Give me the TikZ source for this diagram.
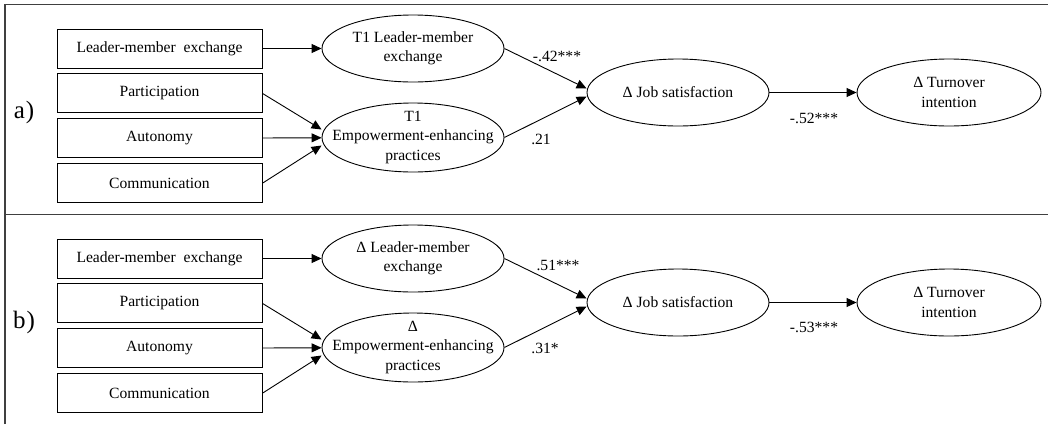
\documentclass[tikz,border=0pt]{standalone}
\usepackage{fontspec}
\setmainfont{Liberation Serif}
\usetikzlibrary{arrows.meta, positioning, shapes.geometric}
\tikzset{%
	obs/.style={draw, rectangle, minimum width=205pt, minimum height=39pt, inner sep=0pt, line width=0.9pt},
	lat/.style={draw, ellipse, minimum width=182pt, minimum height=67pt, inner sep=0pt, line width=0.9pt},
	reg/.style={-{Triangle[length=10pt, width=9pt]}, line width=0.9pt},
	coef/.style={inner sep=0pt},
	panel/.style={font=\fontsize{25}{30}\selectfont},
	frame/.style={line width=1.4pt, black!75}
}

\begin{document}
\begin{tikzpicture}[x=1pt, y=-1pt, every node/.style={font=\fontsize{15.6}{19.5}\selectfont}]
	\useasboundingbox (0,0) rectangle (1048,424);
	\draw[frame] (5,424) -- (5,4.5) -- (1048,4.5);
	\draw[frame] (5,214.5) -- (1048,214.5);

	% a) T1 model
	\node[panel] (panA) at (24,112) {a\kern1pt)};
	\node[obs] (lmxA) at (159.5,48.5) {Leader-member\ \ exchange};
	\node[obs, below=5pt of lmxA] (partA) {Participation};
	\node[obs, below=5pt of partA] (autA) {Autonomy};
	\node[obs, below=5pt of autA] (comA) {Communication};
	\node[lat, label={[align=center]center:T1 Leader-member\\exchange}] (lmxlatA) at (413,48.5) {};
	\node[lat, minimum height=69pt, label={[align=center]center:T1\\Empowerment-enhancing\\practices}] (empA) at (413,137.5) {};
	\node[lat, label=center:Δ Job satisfaction] (jobA) at (678,92.5) {};
	\node[lat, minimum width=184pt, label={[align=center]center:Δ Turnover\\intention}] (turnA) at (949,92.5) {};

	\draw[reg] (lmxA) -- (lmxlatA);
	\draw[reg] (partA.east) -- ([yshift=8pt]empA.west);
	\draw[reg] (autA) -- (empA);
	\draw[reg] (comA.east) -- ([yshift=-8pt]empA.west);
	\draw[reg] (lmxlatA.east) -- ([yshift=4pt]jobA.west);
	\draw[reg] (empA.east) -- ([yshift=-4pt]jobA.west);
	\draw[reg] (jobA) -- (turnA);
	\node[coef] (bA1) at (557,56) {-.42***};
	\node[coef] (bA2) at (541,139) {.21};
	\node[coef] (bA3) at (814,118) {-.52***};

	% b) change model
	\node[panel] (panB) at (24,322) {b\kern1pt)};
	\node[obs] (lmxB) at (159.5,258.5) {Leader-member\ \ exchange};
	\node[obs, below=5pt of lmxB] (partB) {Participation};
	\node[obs, below=5pt of partB] (autB) {Autonomy};
	\node[obs, below=5pt of autB] (comB) {Communication};
	\node[lat, label={[align=center]center:Δ Leader-member\\exchange}] (lmxlatB) at (413,258.5) {};
	\node[lat, minimum height=69pt, label={[align=center]center:Δ\\Empowerment-enhancing\\practices}] (empB) at (413,347.5) {};
	\node[lat, label=center:Δ Job satisfaction] (jobB) at (678,302.5) {};
	\node[lat, minimum width=184pt, label={[align=center]center:Δ Turnover\\intention}] (turnB) at (949,302.5) {};

	\draw[reg] (lmxB) -- (lmxlatB);
	\draw[reg] (partB.east) -- ([yshift=8pt]empB.west);
	\draw[reg] (autB) -- (empB);
	\draw[reg] (comB.east) -- ([yshift=-8pt]empB.west);
	\draw[reg] (lmxlatB.east) -- ([yshift=4pt]jobB.west);
	\draw[reg] (empB.east) -- ([yshift=-4pt]jobB.west);
	\draw[reg] (jobB) -- (turnB);
	\node[coef] (bB1) at (558,265) {.51***};
	\node[coef] (bB2) at (545,348) {.31*};
	\node[coef] (bB3) at (814,327) {-.53***};
\end{tikzpicture}
\end{document}
